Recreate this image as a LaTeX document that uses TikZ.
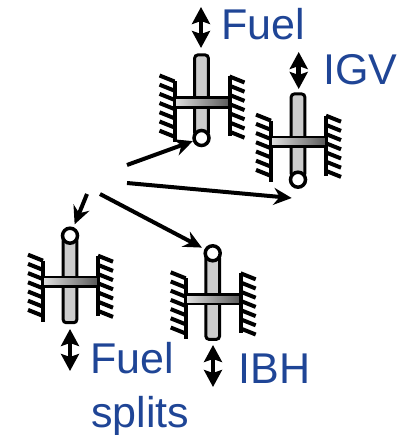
\documentclass[tikz,border=0pt]{standalone}
\usepackage{fontspec}
\setmainfont{Liberation Sans}
\usetikzlibrary{arrows.meta}
\definecolor{labelblue}{HTML}{1F4596}
\tikzset{
  rod/.style={draw=black,fill=black!20,line width=0.06cm,rounded corners=0.06cm},
  crossbar/.style={draw=black,left color=black!12,right color=black!65,line width=0.055cm},
  wall/.style={draw=black,line width=0.08cm},
  ball/.style={shape=circle,draw=black,fill=white,line width=0.07cm,minimum size=0.3cm,inner sep=0pt},
  signal/.style={-{Stealth[length=0.36cm,width=0.34cm,inset=0.12cm]},draw=black,line width=0.08cm},
  travel/.style={{Stealth[length=0.34cm,width=0.36cm,inset=0.06cm]}-{Stealth[length=0.34cm,width=0.36cm,inset=0.06cm]},draw=black,line width=0.09cm},
  label/.style={text=labelblue,font=\fontsize{24.5}{24.5}\selectfont,anchor=base west,inner sep=0pt}
}
% name, x, y of crossbar, rod top, rod bottom, ball y
\newcommand{\actuator}[6]{
  \begin{scope}[shift={(#2,#3)}]
    \draw[rod] (-6.8,#4) rectangle (6.8,#5);
    \node[ball] (#1ball) at (0,#6) {};
    \draw[wall] (-27,-21) -- (-27,40);
    \draw[wall] (28,-26) -- (28,34);
    \foreach \i in {0,...,6} {
      \draw[wall] (-27,-21+9.2*\i) -- (-42,-27+9.2*\i);
      \draw[wall] (28,-26+9.2*\i) -- (43,-20+9.2*\i);
    }
    \draw[crossbar] (-27,-4.7) rectangle (28,4.7);
  \end{scope}
}
\begin{document}
\begin{tikzpicture}[x=0.02cm,y=-0.02cm]
\useasboundingbox (0,0) rectangle (400,435);

\actuator{fuel}{201.5}{102.5}{-47.5}{33}{35.5}
\actuator{igv}{298}{141.7}{-47.7}{35}{38}
\actuator{splits}{70}{281.7}{-44}{41}{-46}
\actuator{ibh}{212.7}{299.3}{-44}{40}{-46}

\node[label] (fuellabel) at (221,40) {Fuel};
\node[label] (igvlabel) at (323,85) {IGV};
\node[label] (splitslabel) at (90,373) {Fuel};
\node[label] (splitslabelb) at (91,427) {splits};
\node[label] (ibhlabel) at (238,383) {IBH};

\coordinate (fueltop) at (201,7);
\coordinate (fuelend) at (201,48);
\coordinate (igvtop) at (298.7,52);
\coordinate (igvend) at (298.7,89);
\coordinate (splitstop) at (70,329);
\coordinate (splitsend) at (70,371);
\coordinate (ibhtop) at (213,345);
\coordinate (ibhend) at (213,387);

\draw[travel] (fueltop) -- (fuelend);
\draw[travel] (igvtop) -- (igvend);
\draw[travel] (splitstop) -- (splitsend);
\draw[travel] (ibhtop) -- (ibhend);

\coordinate (fuelfrom) at (127,165);
\coordinate (igvfrom) at (127,183);
\coordinate (igvtip) at (291.7,198);
\coordinate (splitsfrom) at (87,194);
\coordinate (ibhfrom) at (100,194);

\draw[signal] (fuelfrom) -- (fuelball);
\draw[signal] (igvfrom) -- (igvtip);
\draw[signal,shorten >=0.06cm] (splitsfrom) -- (splitsball);
\draw[signal,shorten >=0.06cm] (ibhfrom) -- (ibhball);
\end{tikzpicture}
\end{document}
